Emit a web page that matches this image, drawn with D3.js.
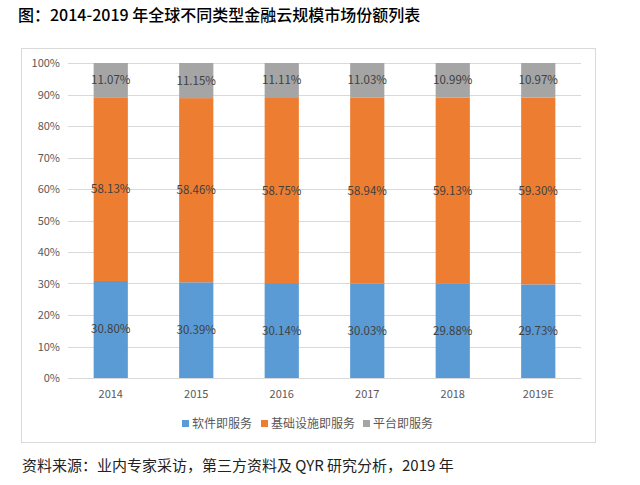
<!DOCTYPE html>
<html><head><meta charset="utf-8">
<script src="https://cdn.jsdelivr.net/npm/d3@7"></script>
<style>body{margin:0;background:#fff;}svg{display:block;}</style>
</head><body><svg id="c" width="640" height="485"></svg>
<script>
const categories = ["2014","2015","2016","2017","2018","2019E"];
const saas = [30.80,30.39,30.14,30.03,29.88,29.73];
const iaas = [58.13,58.46,58.75,58.94,59.13,59.30];
const paas = [11.07,11.15,11.11,11.03,10.99,10.97];
const seriesNames = ["软件即服务","基础设施即服务","平台即服务"];
const yTicks = [0,10,20,30,40,50,60,70,80,90,100];
const colors = ["#5b9bd5","#ed7d31","#a5a5a5"];

const svg = d3.select("#c");
const font = "'Noto Sans CJK SC', 'Noto Sans', sans-serif";

svg.append("text").attr("x",18).attr("y",21).attr("font-family",font)
  .attr("font-size",16).attr("font-weight",500).attr("fill","#000").text("图：2014-2019 年全球不同类型金融云规模市场份额列表");

svg.append("rect").attr("x",21.5).attr("y",48.5).attr("width",574).attr("height",394)
  .attr("fill","#fff").attr("stroke","#d9d9d9");

const x = d3.scaleBand().domain(categories).range([68,581]).paddingInner(0.6).paddingOuter(0.3);
const y = d3.scaleLinear().domain([0,100]).range([378,63]);

const g = svg.append("g");
g.selectAll("line.grid").data(yTicks).join("line")
  .attr("x1",68).attr("x2",581).attr("y1",d=>Math.round(y(d))+0.5).attr("y2",d=>Math.round(y(d))+0.5)
  .attr("stroke","#d9d9d9");

const yAxis = d3.axisLeft(y).tickValues(yTicks).tickFormat(d=>d+"%").tickSize(0).tickPadding(8);
const ya = svg.append("g").attr("transform","translate(68,0)").call(yAxis);
ya.select(".domain").remove();
ya.selectAll("text").attr("font-family",font).attr("font-size",11).attr("fill","#595959");

const xAxis = d3.axisBottom(x).tickSize(0).tickPadding(12);
const xa = svg.append("g").attr("transform","translate(0,378)").call(xAxis);
xa.select(".domain").attr("stroke","#d9d9d9");
xa.selectAll("text").attr("font-family",font).attr("font-size",11).attr("fill","#595959");

const rows = categories.map((c,i)=>({cat:c, v:[saas[i],iaas[i],paas[i]]}));
const stacked = d3.stack().keys([0,1,2]).value((d,k)=>d.v[k])(rows);

stacked.forEach((s,k)=>{
  g.selectAll("rect.s"+k).data(s).join("rect")
    .attr("x",d=>x(d.data.cat)).attr("width",x.bandwidth())
    .attr("y",d=>y(d[1])).attr("height",d=>y(d[0])-y(d[1]))
    .attr("fill",colors[k]);
  g.selectAll("text.l"+k).data(s).join("text")
    .attr("x",d=>x(d.data.cat)+x.bandwidth()/2).attr("y",d=>(y(d[0])+y(d[1]))/2+4)
    .attr("text-anchor","middle").attr("font-family",font).attr("font-size",11.5)
    .attr("fill","#404040").text(d=>d.data.v[k].toFixed(2)+"%");
});

const legX = [182,261,363];
seriesNames.forEach((n,k)=>{
  svg.append("rect").attr("x",legX[k]).attr("y",420).attr("width",7).attr("height",7).attr("fill",colors[k]);
  svg.append("text").attr("x",legX[k]+10).attr("y",428).attr("font-family",font).attr("font-size",12)
    .attr("fill","#595959").text(n);
});

svg.append("text").attr("x",22).attr("y",471).attr("font-family",font).attr("font-size",15)
  .attr("fill","#222").text("资料来源：业内专家采访，第三方资料及 QYR 研究分析，2019 年");
</script></body></html>
